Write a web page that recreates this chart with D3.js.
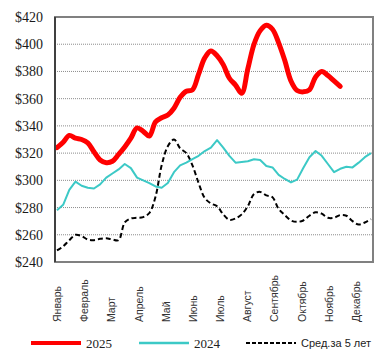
<!DOCTYPE html>
<html>
<head>
<meta charset="utf-8">
<script src="https://cdn.jsdelivr.net/npm/d3@7"></script>
<style>
  html, body { margin: 0; padding: 0; background: #fff; }
  svg { display: block; }
  .serif { font-family: "Liberation Serif", "DejaVu Serif", serif; }
  .sans { font-family: "Liberation Sans", "DejaVu Sans", sans-serif; }
</style>
</head>
<body>
<svg id="chart" width="389" height="357"></svg>
<script>
// ---- data ----
const months = ["Январь","Февраль","Март","Апрель","Май","Июнь","Июль","Август","Сентябрь","Октябрь","Ноябрь","Декабрь"];
const yTicks = [240, 260, 280, 300, 320, 340, 360, 380, 400, 420];
const series2025 = [324, 328, 333, 331, 330, 327.5, 321, 315, 313, 314, 319, 324.5, 331, 338.5, 336, 332.5,
  343, 346, 348, 353, 361, 365.5, 366.5, 378, 390, 395, 391.5, 385, 375, 370, 364, 382, 400, 410, 414, 411,
  401, 388, 373, 366, 365, 366.5, 376, 380, 377, 373, 369];
const series2024 = [278, 282, 293, 299, 296, 294.5, 294, 297, 302, 305, 308, 312, 309, 302, 300, 298, 295.5,
  294.5, 298, 306, 311, 313, 315.5, 318, 321.5, 324, 329.5, 324, 318, 313, 313.5, 314, 315.5, 315, 310.5,
  309.5, 304, 301, 298.5, 300.5, 309, 317, 321.5, 318, 312, 306, 308.5, 310, 309.5, 313, 317, 320];
const series5yr = [248.5, 251.5, 256, 260, 259, 256.5, 256, 257, 257.5, 256.5, 256, 269, 272, 272.5, 273, 276,
  288, 311, 325, 330, 323.5, 320, 311, 298, 287, 283, 281, 275, 271, 272, 275, 281, 290, 291.5, 289, 287.5,
  279, 274.5, 270.5, 269.5, 270.5, 274, 276.5, 275.5, 272.5, 272.5, 274.5, 274, 270, 267.5, 269, 271.5];
const legendLabels = ["2025", "2024", "Сред.за 5 лет"];

// ---- layout ----
const svg = d3.select("#chart");
const plot = { left: 55, right: 373, top: 17, bottom: 262 };
const weeks = 52;

const x = d3.scaleLinear().domain([0, weeks - 1]).range([57, 371]);
const y = d3.scaleLinear().domain([240, 420]).range([plot.bottom, plot.top]);
const xMonth = d3.scalePoint().domain(months).range([57, 356]);

// gridlines
svg.append("g").selectAll("line")
  .data(yTicks.filter(v => v > 240 && v < 420))
  .join("line")
  .attr("x1", plot.left).attr("x2", plot.right)
  .attr("y1", d => y(d)).attr("y2", d => y(d))
  .attr("stroke", "#8c8c8c").attr("stroke-width", 1)
  .attr("stroke-dasharray", "1,1");

// y axis labels
const yAxis = d3.axisLeft(y).tickValues(yTicks).tickSize(0).tickPadding(12)
  .tickFormat(d => "$" + d);
const gy = svg.append("g").attr("transform", `translate(${plot.left},0)`).call(yAxis);
gy.select(".domain").remove();
gy.attr("font-family", null).attr("font-size", null);
gy.selectAll("text")
  .attr("class", "serif")
  .style("font-size", "14px").attr("fill", "#1a1a1a");

// month labels (rotated)
svg.append("g").selectAll("text")
  .data(months)
  .join("text")
  .attr("class", "sans")
  .attr("transform", d => `translate(${xMonth(d) + 4},322) rotate(-90)`)
  .attr("text-anchor", "start")
  .style("font-size", "10.5px")
  .attr("fill", "#333")
  .text(d => d);

// lines
const mk = (curve) => d3.line().x((d, i) => x(i)).y(d => y(d)).curve(curve);

svg.append("path").datum(series5yr)
  .attr("d", mk(d3.curveCatmullRom.alpha(0.5)))
  .attr("fill", "none").attr("stroke", "#000").attr("stroke-width", 2)
  .attr("stroke-dasharray", "5,3");

svg.append("path").datum(series2024)
  .attr("d", mk(d3.curveLinear))
  .attr("fill", "none").attr("stroke", "#3cc9c6").attr("stroke-width", 2)
  .attr("stroke-linejoin", "round");

svg.append("path").datum(series2025)
  .attr("d", mk(d3.curveCatmullRom.alpha(0.5)))
  .attr("fill", "none").attr("stroke", "#ff0000").attr("stroke-width", 5)
  .attr("stroke-linecap", "round").attr("stroke-linejoin", "round");

// plot border
svg.append("rect")
  .attr("x", plot.left).attr("y", plot.top)
  .attr("width", plot.right - plot.left).attr("height", plot.bottom - plot.top)
  .attr("fill", "none").attr("stroke", "#808080").attr("stroke-width", 2);
svg.append("line")
  .attr("x1", plot.left).attr("x2", plot.left)
  .attr("y1", plot.top).attr("y2", plot.bottom)
  .attr("stroke", "#404040").attr("stroke-width", 2);

// legend
const legendY = 343;
const legendItems = [
  { label: legendLabels[0], x: 31, color: "#ff0000", width: 4, dash: null, cls: "serif", size: "13px" },
  { label: legendLabels[1], x: 139, color: "#3cc9c6", width: 2.5, dash: null, cls: "serif", size: "13px" },
  { label: legendLabels[2], x: 246, color: "#000", width: 2, dash: "4,2", cls: "sans", size: "11px" }
];
const lg = svg.append("g").selectAll("g").data(legendItems).join("g");
lg.append("line")
  .attr("x1", d => d.x).attr("x2", d => d.x + 50)
  .attr("y1", legendY).attr("y2", legendY)
  .attr("stroke", d => d.color).attr("stroke-width", d => d.width)
  .attr("stroke-dasharray", d => d.dash);
lg.append("text")
  .attr("class", d => d.cls)
  .attr("x", d => d.x + 55).attr("y", legendY)
  .attr("dy", "0.35em")
  .style("font-size", d => d.size)
  .attr("fill", "#222")
  .text(d => d.label);
</script>
</body>
</html>
